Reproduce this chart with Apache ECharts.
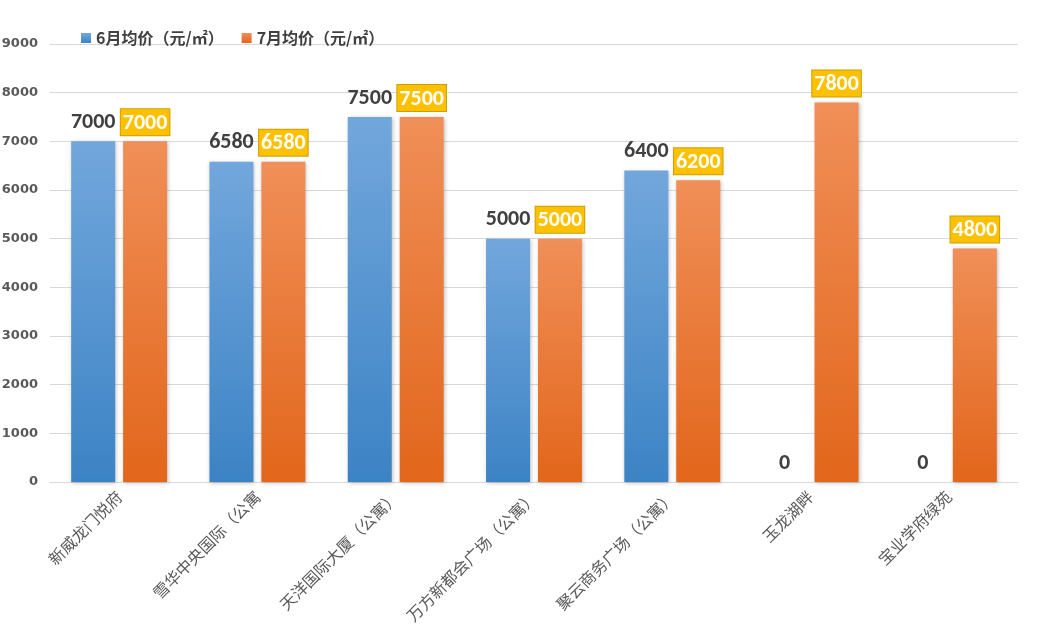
<!DOCTYPE html>
<html>
<head>
<meta charset="utf-8">
<script src="https://cdn.jsdelivr.net/npm/echarts@6/dist/echarts.min.js"></script>
<style>
  html, body { margin: 0; padding: 0; background: #fff; }
  #chart { width: 1037px; height: 640px; }
</style>
</head>
<body>
<div id="chart"></div>
<script>
const categories = ['新威龙门悦府', '雪华中央国际（公寓', '天洋国际大厦（公寓）', '万方新都会广场（公寓）', '聚云商务广场（公寓）', '玉龙湖畔', '宝业学府绿苑']
const juneValues = [7000, 6580, 7500, 5000, 6400, 0, 0]
const julyValues = [7000, 6580, 7500, 5000, 6200, 7800, 4800]
const seriesNames = ['6月均价（元/㎡）', '7月均价（元/㎡）']

const font = '"Microsoft YaHei", "Noto Sans CJK SC", sans-serif'
const numFont = 'Calibri, Carlito, "Open Sans", sans-serif'

const chart = echarts.init(document.getElementById('chart'))

chart.setOption({
    backgroundColor: '#fff',
    textStyle: { fontFamily: font },
    legend: {
        top: 25,
        left: 76,
        itemWidth: 10,
        itemHeight: 10,
        itemGap: 18,
        itemStyle: { borderWidth: 0 },
        icon: 'rect',
        textStyle: { color: '#404040', fontSize: 16, fontWeight: 'bold', fontFamily: font }
    },
    grid: { left: 50, right: 19, top: 44, bottom: 158, outerBoundsMode: 'none' },
    xAxis: {
        type: 'category',
        data: categories,
        axisLine: { lineStyle: { color: '#d9d9d9' } },
        axisTick: { show: false },
        axisLabel: {
            rotate: 45,
            interval: 0,
            color: '#595959',
            fontSize: 16,
            margin: 12,
            fontFamily: font
        }
    },
    yAxis: {
        type: 'value',
        min: 0,
        max: 9000,
        interval: 1000,
        axisLine: { show: false },
        axisTick: { show: false },
        axisLabel: {
            color: '#595959',
            fontSize: 13,
            fontWeight: 'bold',
            margin: 12,
            fontFamily: 'Verdana, "DejaVu Sans", sans-serif',
            formatter: (v) => String(v)
        },
        splitLine: { lineStyle: { color: '#d9d9d9' } }
    },
    series: [
        {
            name: seriesNames[0],
            type: 'bar',
            data: juneValues,
            barWidth: 44,
            barGap: '18%',
            itemStyle: {
                color: new echarts.graphic.LinearGradient(0, 0, 0, 1, [
                    { offset: 0, color: '#72a7dc' },
                    { offset: 1, color: '#3c83c5' }
                ]),
                shadowColor: 'rgba(0,0,0,0.25)',
                shadowBlur: 4,
                shadowOffsetX: 1,
                shadowOffsetY: 1
            },
            label: {
                show: true,
                position: 'top',
                distance: 8,
                color: '#404040',
                fontSize: 22,
                fontWeight: 'bold',
                fontFamily: numFont
            }
        },
        {
            name: seriesNames[1],
            type: 'bar',
            data: julyValues,
            barWidth: 44,
            itemStyle: {
                color: new echarts.graphic.LinearGradient(0, 0, 0, 1, [
                    { offset: 0, color: '#f08f58' },
                    { offset: 1, color: '#e2661b' }
                ]),
                shadowColor: 'rgba(0,0,0,0.25)',
                shadowBlur: 4,
                shadowOffsetX: 1,
                shadowOffsetY: 1
            },
            label: {
                show: true,
                position: 'top',
                distance: 6,
                color: '#fff',
                fontSize: 22,
                fontWeight: 'bold',
                fontFamily: numFont,
                backgroundColor: '#ffc000',
                borderColor: '#c9a000',
                borderWidth: 1,
                padding: [3, 2, 1, 2]
            }
        }
    ],
    color: ['#5b9bd5', '#ed7d31']
})
</script>
</body>
</html>
